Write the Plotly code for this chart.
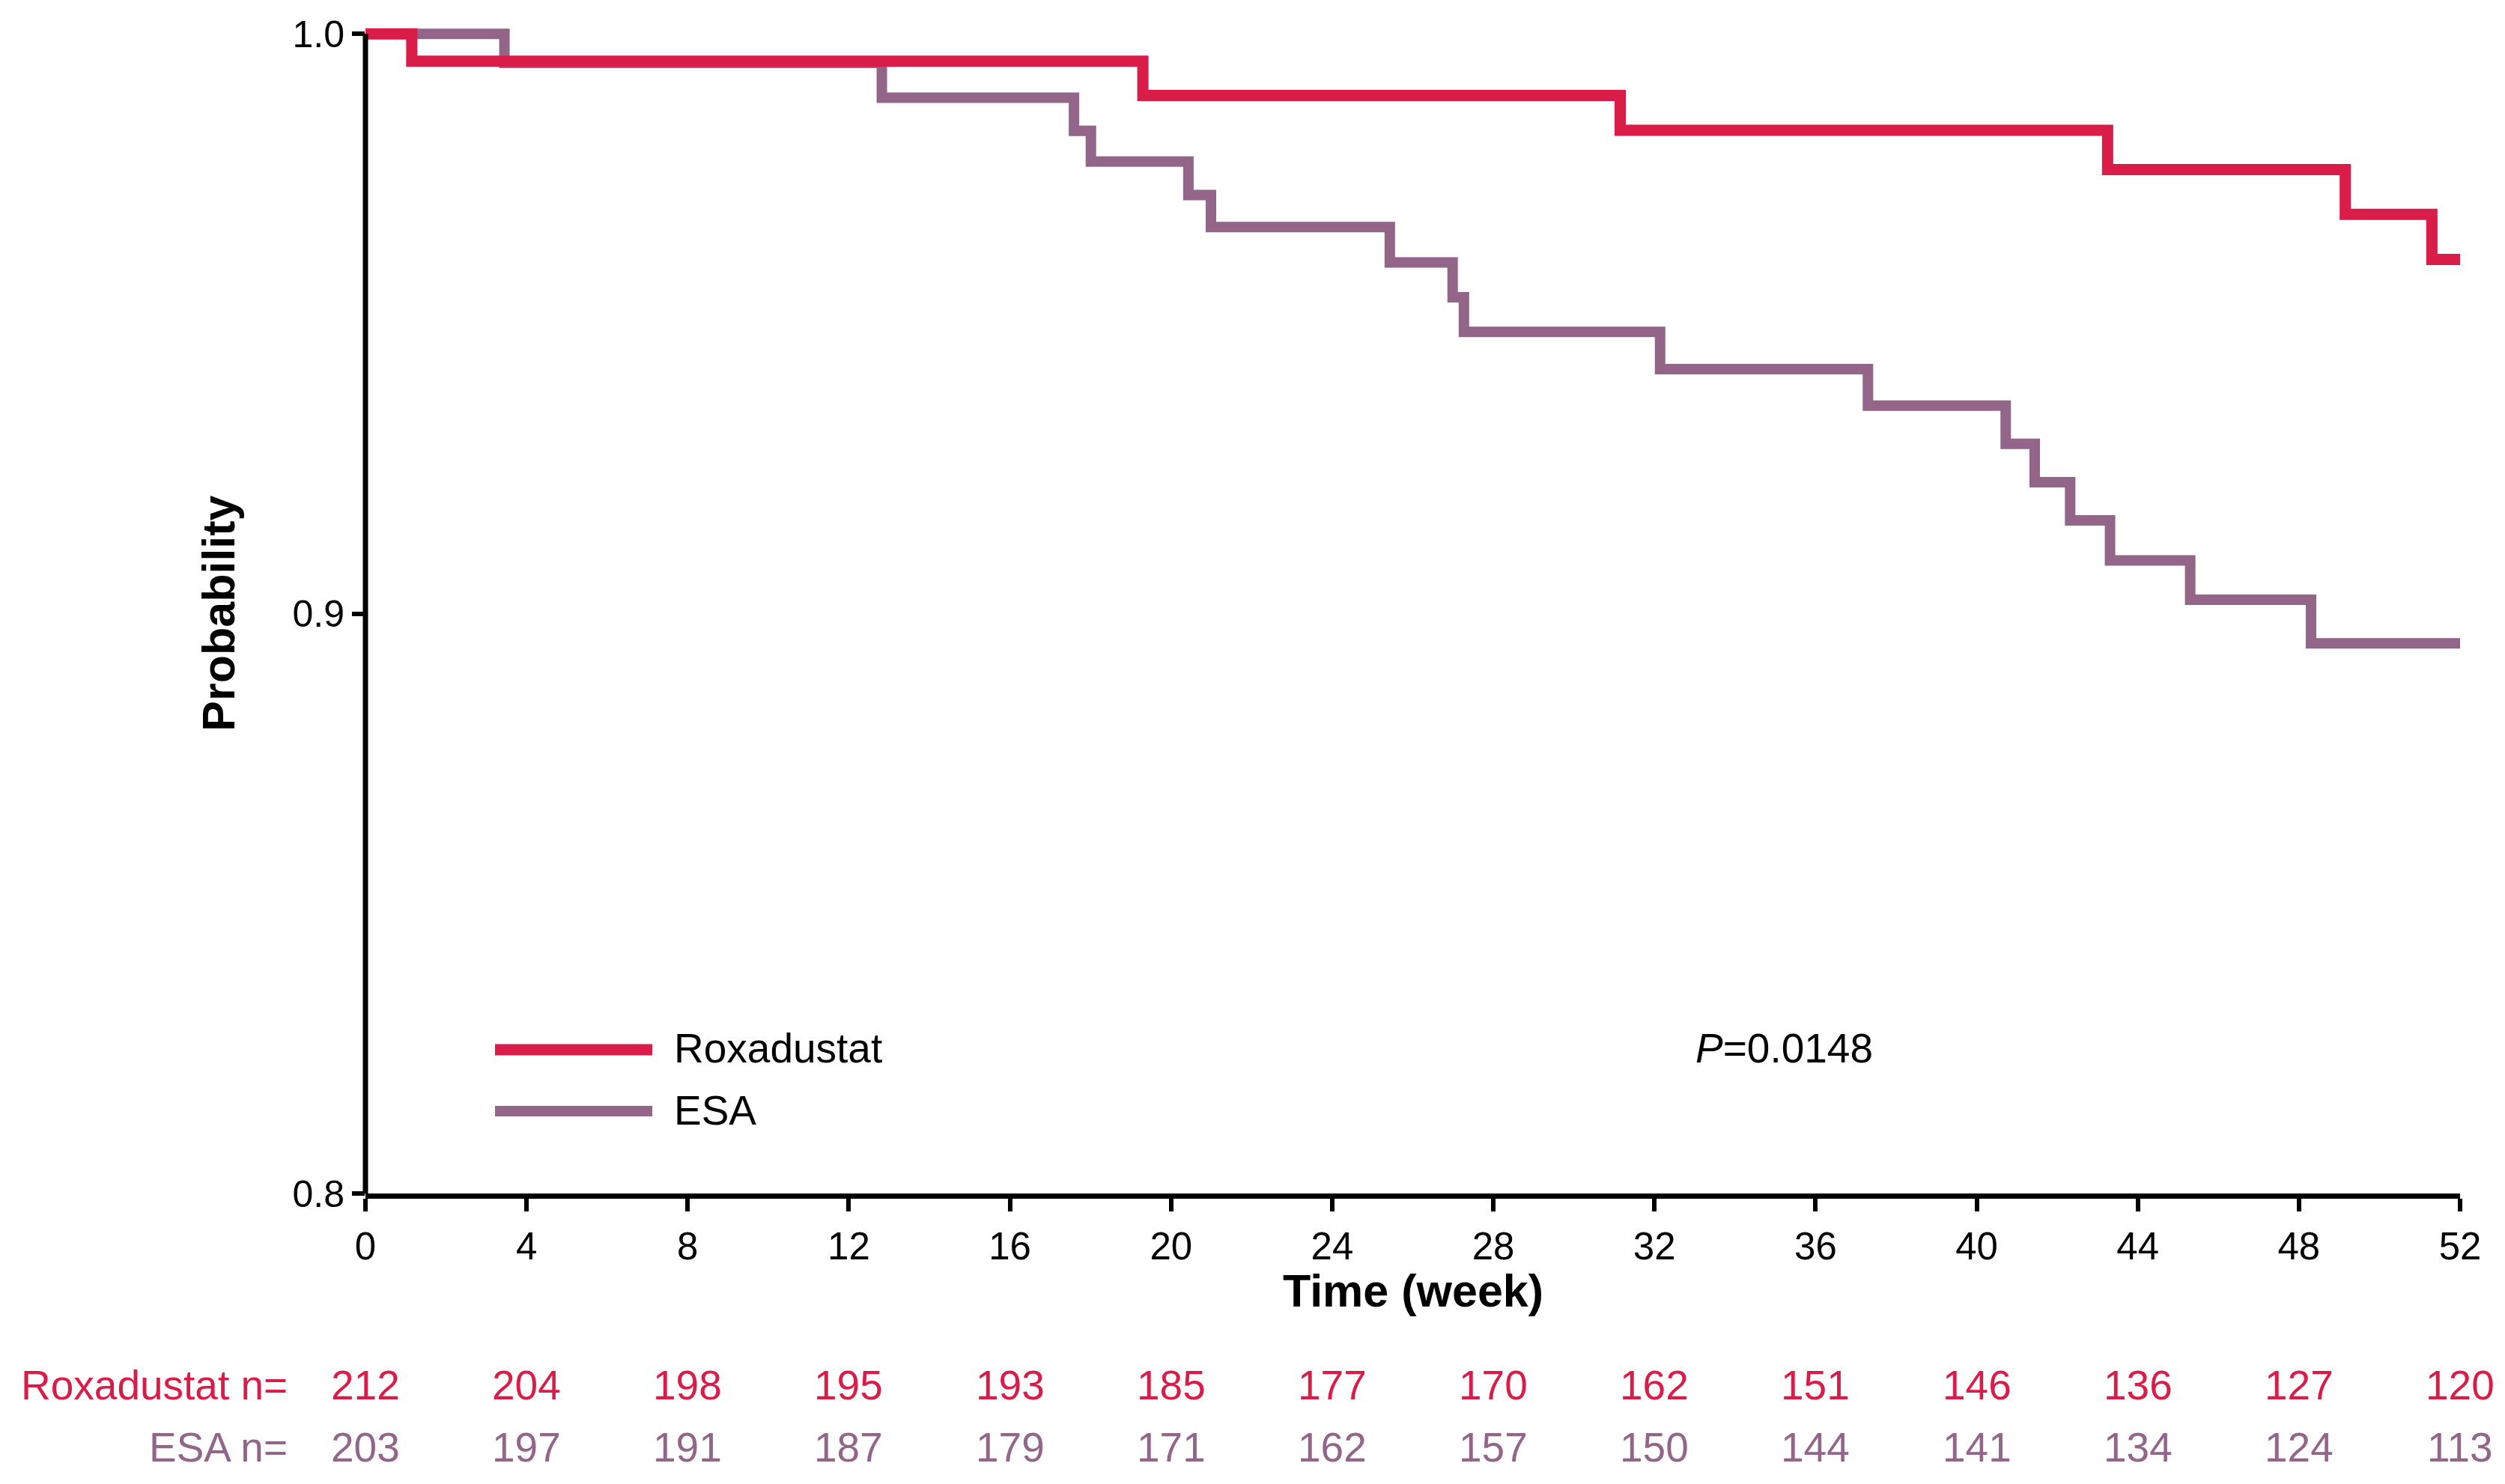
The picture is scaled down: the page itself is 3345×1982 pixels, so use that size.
import plotly.graph_objects as go

# ---- data ----
rox_weeks = [0, 1.15, 19.3, 31.15, 43.25, 49.15, 51.3, 52]
rox_surv = [1.0, 0.9953, 0.9894, 0.9834, 0.9766, 0.9689, 0.9611, 0.9611]

esa_weeks = [0, 3.45, 12.82, 17.59, 18.01, 20.43, 20.99, 25.43, 26.99, 27.27,
             32.14, 37.30, 40.72, 41.44, 42.32, 43.31, 45.30, 48.30, 52]
esa_surv = [1.0, 0.9950, 0.9890, 0.9833, 0.9780, 0.9722, 0.9667, 0.9606, 0.9546, 0.9486,
            0.9422, 0.9359, 0.9293, 0.9227, 0.9161, 0.9092, 0.9024, 0.8949, 0.8949]

risk_weeks = [0, 4, 8, 12, 16, 20, 24, 28, 32, 36, 40, 44, 48, 52]
rox_n = [212, 204, 198, 195, 193, 185, 177, 170, 162, 151, 146, 136, 127, 120]
esa_n = [203, 197, 191, 187, 179, 171, 162, 157, 150, 144, 141, 134, 124, 113]

y_ticks = [0.8, 0.9, 1.0]
y_tick_labels = ["0.8", "0.9", "1.0"]

RED = "#D91C48"
PURPLE = "#926589"
FONT = "Liberation Sans, Arial, sans-serif"

W, H = 3345, 1982
ML, MR, MT, MB = 488, 60, 26, 388

fig = go.Figure()
fig.add_trace(go.Scatter(x=esa_weeks, y=esa_surv, mode="lines",
                         line=dict(shape="hv", color=PURPLE, width=14),
                         name="ESA", showlegend=False, hoverinfo="skip"))
fig.add_trace(go.Scatter(x=rox_weeks, y=rox_surv, mode="lines",
                         line=dict(shape="hv", color=RED, width=15),
                         name="Roxadustat", showlegend=False, hoverinfo="skip"))

plot_h = H - MT - MB
plot_w = W - ML - MR


def py(pixel_y):
    return (H - MB - pixel_y) / plot_h


def px(pixel_x):
    return (pixel_x - ML) / plot_w


annotations = []
# number at risk
for wk, n in zip(risk_weeks, rox_n):
    annotations.append(dict(x=wk, xref="x", y=py(1850), yref="paper", text=str(n),
                            showarrow=False, xanchor="center", yanchor="middle",
                            font=dict(family=FONT, size=55, color=RED)))
for wk, n in zip(risk_weeks, esa_n):
    annotations.append(dict(x=wk, xref="x", y=py(1933), yref="paper", text=str(n),
                            showarrow=False, xanchor="center", yanchor="middle",
                            font=dict(family=FONT, size=55, color=PURPLE)))
annotations.append(dict(x=px(386), xref="paper", y=py(1850), yref="paper", text="Roxadustat n=",
                        showarrow=False, xanchor="right", yanchor="middle",
                        font=dict(family=FONT, size=55, color=RED)))
annotations.append(dict(x=px(386), xref="paper", y=py(1933), yref="paper", text="ESA n=",
                        showarrow=False, xanchor="right", yanchor="middle",
                        font=dict(family=FONT, size=55, color=PURPLE)))
# axis titles
annotations.append(dict(x=0.5, xref="paper", y=py(1724), yref="paper", text="<b>Time (week)</b>",
                        showarrow=False, xanchor="center", yanchor="middle",
                        font=dict(family=FONT, size=61, color="black")))
annotations.append(dict(x=px(292), xref="paper", y=0.9, yref="y", text="<b>Probability</b>",
                        showarrow=False, xanchor="center", yanchor="middle", textangle=-90,
                        font=dict(family=FONT, size=61, color="black")))
# legend text
annotations.append(dict(x=px(898), xref="paper", y=py(1400), yref="paper", text="Roxadustat",
                        showarrow=False, xanchor="left", yanchor="middle",
                        font=dict(family=FONT, size=55, color="black")))
annotations.append(dict(x=px(898), xref="paper", y=py(1483), yref="paper", text="ESA",
                        showarrow=False, xanchor="left", yanchor="middle",
                        font=dict(family=FONT, size=55, color="black")))
# p-value
annotations.append(dict(x=px(2262), xref="paper", y=py(1400), yref="paper", text="<i>P</i>=0.0148",
                        showarrow=False, xanchor="left", yanchor="middle",
                        font=dict(family=FONT, size=55, color="black")))

shapes = [
    # y-axis line from 0.8 to 1.0
    dict(type="line", xref="paper", x0=0, x1=0, yref="y", y0=0.8, y1=1.0,
         line=dict(color="black", width=7), layer="above"),
    # legend keys
    dict(type="line", xref="paper", x0=px(661), x1=px(871), yref="paper", y0=py(1402), y1=py(1402),
         line=dict(color=RED, width=15)),
    dict(type="line", xref="paper", x0=px(661), x1=px(871), yref="paper", y0=py(1484), y1=py(1484),
         line=dict(color=PURPLE, width=14)),
]

fig.update_layout(
    width=W, height=H,
    margin=dict(l=ML, r=MR, t=MT, b=MB, pad=0),
    paper_bgcolor="white", plot_bgcolor="white",
    showlegend=False,
    font=dict(family=FONT, color="black"),
    annotations=annotations,
    shapes=shapes,
    xaxis=dict(range=[0, 52], tickvals=risk_weeks, ticktext=[str(w) for w in risk_weeks],
               showgrid=False, zeroline=False, showline=True, linecolor="black", linewidth=7,
               ticks="outside", ticklen=17, tickwidth=6, tickcolor="black",
               tickfont=dict(family=FONT, size=51, color="black"), ticklabelstandoff=3),
    yaxis=dict(range=[0.8, 1.0025], tickvals=y_ticks, ticktext=y_tick_labels,
               showgrid=False, zeroline=False, showline=False,
               ticks="outside", ticklen=17, tickwidth=6, tickcolor="black",
               tickfont=dict(family=FONT, size=50, color="black")),
)

fig.write_html("out.html", config={"displayModeBar": False},
               post_script="document.body.style.margin='0';document.body.style.overflow='hidden';")
